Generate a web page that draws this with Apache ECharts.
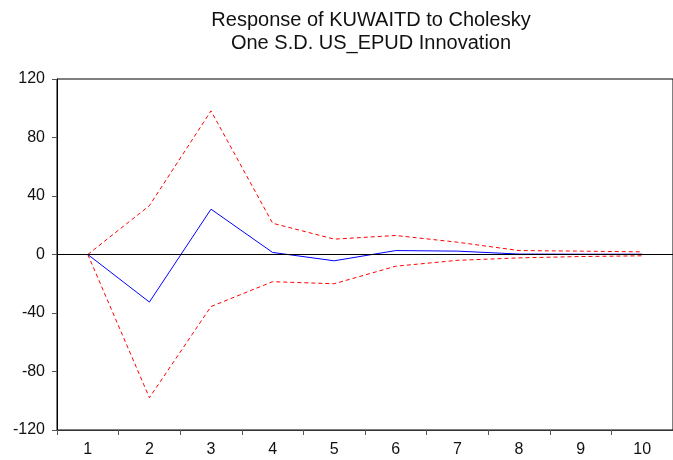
<!DOCTYPE html>
<html>
<head>
<meta charset="utf-8">
<script src="https://cdn.jsdelivr.net/npm/echarts@6/dist/echarts.min.js"></script>
<style>
  html, body { margin: 0; padding: 0; background: #fff; }
  #chart { width: 673px; height: 460px; }
</style>
</head>
<body>
<div id="chart"></div>
<script>
const periods = ['1', '2', '3', '4', '5', '6', '7', '8', '9', '10'];
const response = [0, -32.5, 31, 1.4, -4.3, 2.7, 2.3, 0.3, 0.2, 0.2];
const upperBand = [0, 33.4, 98.2, 21.4, 10.5, 13, 8.4, 2.7, 2.3, 1.8];
const lowerBand = [0, -97.9, -35.6, -18.6, -20, -8, -4, -2.3, -1.4, -0.9];

const chart = echarts.init(document.getElementById('chart'));

const font = 'Arial, "Liberation Sans", sans-serif';

const option = {
  animation: false,
  title: {
    text: 'Response of KUWAITD to Cholesky\nOne S.D. US_EPUD Innovation',
    left: 366,
    textAlign: 'center',
    top: 4,
    textStyle: {
      fontFamily: font,
      fontSize: 20,
      fontWeight: 'normal',
      color: '#111',
      lineHeight: 23
    }
  },
  grid: {
    left: 57,
    right: -6,
    top: 79,
    bottom: 30,
    show: true,
    borderColor: '#000',
    borderWidth: 1
  },
  xAxis: {
    type: 'category',
    data: periods,
    boundaryGap: true,
    axisLine: { onZero: false, lineStyle: { color: '#333', width: 1 } },
    axisTick: { show: true, length: 5, lineStyle: { color: '#555' } },
    axisLabel: {
      fontFamily: font,
      fontSize: 16,
      color: '#111',
      margin: 12
    },
    splitLine: { show: false }
  },
  yAxis: {
    type: 'value',
    min: -120,
    max: 120,
    interval: 40,
    axisLine: { show: true, lineStyle: { color: '#000', width: 1 } },
    axisTick: { show: true, length: 5, lineStyle: { color: '#555' } },
    axisLabel: {
      fontFamily: font,
      fontSize: 16,
      color: '#111',
      margin: 12
    },
    splitLine: { show: false }
  },
  series: [
    {
      name: 'upper',
      type: 'line',
      data: upperBand,
      symbol: 'none',
      lineStyle: { color: '#ff0000', width: 1, type: [4, 3] },
      z: 3
    },
    {
      name: 'lower',
      type: 'line',
      data: lowerBand,
      symbol: 'none',
      lineStyle: { color: '#ff0000', width: 1, type: [4, 3] },
      z: 3
    },
    {
      name: 'response',
      type: 'line',
      data: response,
      symbol: 'none',
      lineStyle: { color: '#0000ff', width: 1 },
      z: 4,
      markLine: {
        silent: true,
        symbol: 'none',
        label: { show: false },
        lineStyle: { color: '#000', width: 1, type: 'solid' },
        data: [{ yAxis: 0 }]
      }
    }
  ]
};

chart.setOption(option);
window.addEventListener('resize', () => chart.resize());
</script>
</body>
</html>
